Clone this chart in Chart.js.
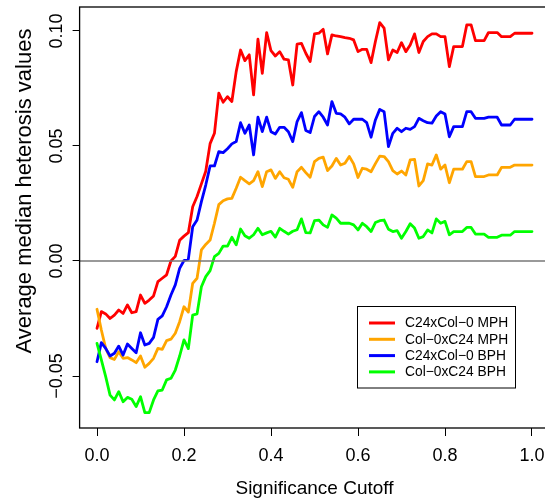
<!DOCTYPE html>
<html>
<head>
<meta charset="utf-8">
<script src="https://cdn.jsdelivr.net/npm/chart.js@4.4.1/dist/chart.umd.min.js"></script>
<style>
  html, body { margin: 0; padding: 0; background: #fff; overflow: hidden; }
  #wrap { width: 570px; height: 498px; }
</style>
</head>
<body>
<div id="wrap"><canvas id="chart" width="570" height="498"></canvas></div>
<script>
// significance cutoffs (x)
const cutoffs = [
  0.00, 0.01, 0.02, 0.03, 0.04, 0.05, 0.06, 0.07, 0.08, 0.09,
  0.10, 0.11, 0.12, 0.13, 0.14, 0.15, 0.16, 0.17, 0.18, 0.19,
  0.20, 0.21, 0.22, 0.23, 0.24, 0.25, 0.26, 0.27, 0.28, 0.29,
  0.30, 0.31, 0.32, 0.33, 0.34, 0.35, 0.36, 0.37, 0.38, 0.39,
  0.40, 0.41, 0.42, 0.43, 0.44, 0.45, 0.46, 0.47, 0.48, 0.49,
  0.50, 0.51, 0.52, 0.53, 0.54, 0.55, 0.56, 0.57, 0.58, 0.59,
  0.60, 0.61, 0.62, 0.63, 0.64, 0.65, 0.66, 0.67, 0.68, 0.69,
  0.70, 0.71, 0.72, 0.73, 0.74, 0.75, 0.76, 0.77, 0.78, 0.79,
  0.80, 0.81, 0.82, 0.83, 0.84, 0.85, 0.86, 0.87, 0.88, 0.89,
  0.90, 0.91, 0.92, 0.93, 0.94, 0.95, 0.96, 0.97, 0.98, 0.99, 1.00
];

const c24xCol0MPH = [
  -0.0293, -0.0220, -0.0230, -0.0250, -0.0235, -0.0213, -0.0228, -0.0191, -0.0225, -0.0220,
  -0.0148, -0.0184, -0.0170, -0.0152, -0.0090, -0.0075, -0.0060, 0.0000, 0.0020, 0.0090,
  0.0108, 0.0123, 0.0236, 0.0280, 0.0335, 0.0390, 0.0510, 0.0555, 0.0730, 0.0690,
  0.0714, 0.0693, 0.0823, 0.0917, 0.0871, 0.0896, 0.0722, 0.0964, 0.0816, 0.0993,
  0.0914, 0.0891, 0.0910, 0.0877, 0.0874, 0.0765, 0.0943, 0.0946, 0.0903, 0.0867,
  0.0987, 0.0990, 0.1007, 0.0900, 0.0983, 0.0978, 0.0975, 0.0971, 0.0968, 0.0961,
  0.0910, 0.0920, 0.0920, 0.0862, 0.0954, 0.1036, 0.1012, 0.0874, 0.0917, 0.0906,
  0.0949, 0.0910, 0.0939, 0.0987, 0.0906, 0.0954, 0.0975, 0.0987, 0.0987, 0.0975,
  0.0975, 0.0845, 0.0932, 0.0932, 0.0932, 0.1026, 0.1026, 0.0958, 0.0958, 0.0958,
  0.0993, 0.0993, 0.0993, 0.0975, 0.0975, 0.0975, 0.0990, 0.0990, 0.0990, 0.0990, 0.0990
];

const col0xC24MPH = [
  -0.0210, -0.0300, -0.0380, -0.0420, -0.0428, -0.0394, -0.0423, -0.0420, -0.0430, -0.0442,
  -0.0413, -0.0462, -0.0445, -0.0423, -0.0380, -0.0384, -0.0346, -0.0340, -0.0314, -0.0264,
  -0.0199, -0.0222, -0.0097, -0.0075, 0.0048, 0.0072, 0.0091, 0.0164, 0.0245, 0.0262,
  0.0270, 0.0272, 0.0316, 0.0364, 0.0349, 0.0335, 0.0349, 0.0388, 0.0323, 0.0388,
  0.0396, 0.0359, 0.0388, 0.0362, 0.0355, 0.0320, 0.0388, 0.0407, 0.0384, 0.0364,
  0.0432, 0.0446, 0.0451, 0.0393, 0.0413, 0.0446, 0.0417, 0.0425, 0.0454, 0.0422,
  0.0363, 0.0403, 0.0399, 0.0388, 0.0423, 0.0456, 0.0454, 0.0432, 0.0393, 0.0378,
  0.0391, 0.0374, 0.0439, 0.0442, 0.0326, 0.0349, 0.0422, 0.0417, 0.0461, 0.0399,
  0.0417, 0.0340, 0.0399, 0.0399, 0.0399, 0.0432, 0.0432, 0.0367, 0.0367, 0.0367,
  0.0374, 0.0374, 0.0374, 0.0407, 0.0407, 0.0407, 0.0417, 0.0417, 0.0417, 0.0417, 0.0417
];

const c24xCol0BPH = [
  -0.0438, -0.0355, -0.0380, -0.0413, -0.0401, -0.0370, -0.0409, -0.0361, -0.0380, -0.0399,
  -0.0312, -0.0365, -0.0358, -0.0332, -0.0254, -0.0239, -0.0199, -0.0148, -0.0104, -0.0032,
  0.0002, 0.0008, 0.0149, 0.0178, 0.0258, 0.0330, 0.0413, 0.0413, 0.0475, 0.0471,
  0.0488, 0.0509, 0.0519, 0.0601, 0.0555, 0.0591, 0.0461, 0.0625, 0.0562, 0.0625,
  0.0562, 0.0552, 0.0581, 0.0581, 0.0562, 0.0519, 0.0606, 0.0645, 0.0567, 0.0558,
  0.0628, 0.0649, 0.0625, 0.0591, 0.0693, 0.0642, 0.0639, 0.0625, 0.0596, 0.0616,
  0.0616, 0.0616, 0.0601, 0.0538, 0.0613, 0.0659, 0.0649, 0.0497, 0.0555, 0.0577,
  0.0562, 0.0577, 0.0572, 0.0584, 0.0620, 0.0610, 0.0601, 0.0599, 0.0630, 0.0649,
  0.0639, 0.0540, 0.0584, 0.0584, 0.0584, 0.0649, 0.0649, 0.0620, 0.0620, 0.0620,
  0.0625, 0.0625, 0.0625, 0.0591, 0.0591, 0.0591, 0.0616, 0.0616, 0.0616, 0.0616, 0.0616
];

const col0xC24BPH = [
  -0.0358, -0.0430, -0.0503, -0.0583, -0.0604, -0.0568, -0.0612, -0.0593, -0.0601, -0.0633,
  -0.0590, -0.0659, -0.0659, -0.0604, -0.0565, -0.0561, -0.0517, -0.0510, -0.0474, -0.0413,
  -0.0343, -0.0381, -0.0235, -0.0230, -0.0112, -0.0068, -0.0042, 0.0019, 0.0033, 0.0065,
  0.0065, 0.0103, 0.0070, 0.0139, 0.0110, 0.0099, 0.0114, 0.0142, 0.0114, 0.0122,
  0.0129, 0.0104, 0.0142, 0.0129, 0.0117, 0.0129, 0.0136, 0.0183, 0.0123, 0.0122,
  0.0175, 0.0178, 0.0157, 0.0146, 0.0200, 0.0186, 0.0164, 0.0164, 0.0164, 0.0157,
  0.0135, 0.0164, 0.0149, 0.0128, 0.0167, 0.0175, 0.0178, 0.0138, 0.0128, 0.0132,
  0.0099, 0.0128, 0.0162, 0.0143, 0.0099, 0.0106, 0.0135, 0.0122, 0.0183, 0.0164,
  0.0172, 0.0114, 0.0128, 0.0128, 0.0128, 0.0146, 0.0146, 0.0117, 0.0117, 0.0117,
  0.0103, 0.0103, 0.0103, 0.0112, 0.0112, 0.0112, 0.0128, 0.0128, 0.0128, 0.0128, 0.0128
];

const xTicks = [0, 0.2, 0.4, 0.6, 0.8, 1.0];
const yTicks = [-0.05, 0, 0.05, 0.10];
const seriesNames = ["C24xCol\u22120 MPH", "Col\u22120xC24 MPH", "C24xCol\u22120 BPH", "Col\u22120xC24 BPH"];
const seriesColors = ["#ff0000", "#ffa500", "#0000ff", "#00ff00"];

const FONT = "'Liberation Sans', Arial, Helvetica, sans-serif";

const toPoints = (values) => values.map((v, i) => ({ x: cutoffs[i], y: v }));
const fmtY = (v) => (v < 0 ? "\u2212" : "") + Math.abs(v).toFixed(2);

const seriesValues = [c24xCol0MPH, col0xC24MPH, c24xCol0BPH, col0xC24BPH];
const datasets = seriesValues.map((vals, k) => ({
  label: seriesNames[k],
  data: toPoints(vals),
  borderColor: seriesColors[k],
  order: seriesValues.length - k, // later series drawn on top, like R
}));

// base-R look: zero line, box, rotated y labels, titles, legend
const rStyle = {
  id: "rStyle",
  afterDatasetsDraw(chart) {
    const { ctx, chartArea: a, scales } = chart;
    const y0 = scales.y.getPixelForValue(0);
    ctx.save();
    ctx.strokeStyle = "#777";
    ctx.lineWidth = 1.6;
    ctx.beginPath();
    ctx.moveTo(a.left, y0);
    ctx.lineTo(a.right, y0);
    ctx.stroke();
    ctx.strokeStyle = "#000";
    ctx.lineWidth = 1.3;
    ctx.strokeRect(a.left, a.top, a.right - a.left, a.bottom - a.top);
    ctx.restore();
  },
  afterDraw(chart) {
    const { ctx, chartArea: a, scales } = chart;
    ctx.save();
    ctx.fillStyle = "#000";

    // y tick labels, reading upwards
    ctx.font = `18px ${FONT}`;
    ctx.textAlign = "center";
    ctx.textBaseline = "alphabetic";
    yTicks.forEach((v) => {
      ctx.save();
      ctx.translate(62, scales.y.getPixelForValue(v));
      ctx.rotate(-Math.PI / 2);
      ctx.fillText(fmtY(v), 0, 0);
      ctx.restore();
    });

    // axis titles
    ctx.font = `19px ${FONT}`;
    ctx.fillText("Significance Cutoff", (a.left + a.right) / 2, 493.5);
    ctx.save();
    ctx.font = `22px ${FONT}`;
    ctx.translate(31, 191);
    ctx.rotate(-Math.PI / 2);
    ctx.fillText("Average median heterosis values", 0, 0);
    ctx.restore();

    // legend
    const lx = 357.5, ly = 306.5, lw = 158, lh = 81.5;
    ctx.fillStyle = "#fff";
    ctx.fillRect(lx, ly, lw, lh);
    ctx.strokeStyle = "#000";
    ctx.lineWidth = 1;
    ctx.strokeRect(lx, ly, lw, lh);
    ctx.font = `13.8px ${FONT}`;
    ctx.textAlign = "left";
    ctx.textBaseline = "middle";
    chart.data.datasets.forEach((ds, k) => {
      const ry = 323 + k * 16.3;
      ctx.strokeStyle = ds.borderColor;
      ctx.lineWidth = 3;
      ctx.beginPath();
      ctx.moveTo(369, ry);
      ctx.lineTo(395, ry);
      ctx.stroke();
      ctx.fillStyle = "#000";
      ctx.fillText(ds.label, 405, ry + 0.5);
    });
    ctx.restore();
  },
};

new Chart(document.getElementById("chart"), {
  type: "line",
  data: { datasets },
  options: {
    responsive: false,
    animation: false,
    devicePixelRatio: 1,
    layout: { padding: { left: 0, top: 7, right: 20.6, bottom: 0 } },
    plugins: { legend: { display: false }, tooltip: { enabled: false } },
    elements: {
      point: { radius: 0 },
      line: { tension: 0, borderWidth: 2.8, borderCapStyle: "round", borderJoinStyle: "round" },
    },
    scales: {
      x: {
        type: "linear",
        min: -0.04,
        max: 1.04,
        afterBuildTicks: (s) => { s.ticks = xTicks.map((v) => ({ value: v })); },
        afterFit: (s) => { s.height = 70; },
        grid: { drawOnChartArea: false, drawTicks: true, tickLength: 8, color: "#000", lineWidth: 1 },
        border: { display: false },
        ticks: {
          autoSkip: false,
          maxRotation: 0,
          padding: 9,
          color: "#000",
          font: { family: FONT, size: 18 },
          callback: (v) => Number(v).toFixed(1),
        },
      },
      y: {
        type: "linear",
        min: -0.0726,
        max: 0.1104,
        afterBuildTicks: (s) => { s.ticks = yTicks.map((v) => ({ value: v })); },
        afterFit: (s) => { s.width = 79.6; },
        grid: { drawOnChartArea: false, drawTicks: true, tickLength: 7, color: "#000", lineWidth: 1 },
        border: { display: false },
        ticks: { display: false },
      },
    },
  },
  plugins: [rStyle],
});
</script>
</body>
</html>
